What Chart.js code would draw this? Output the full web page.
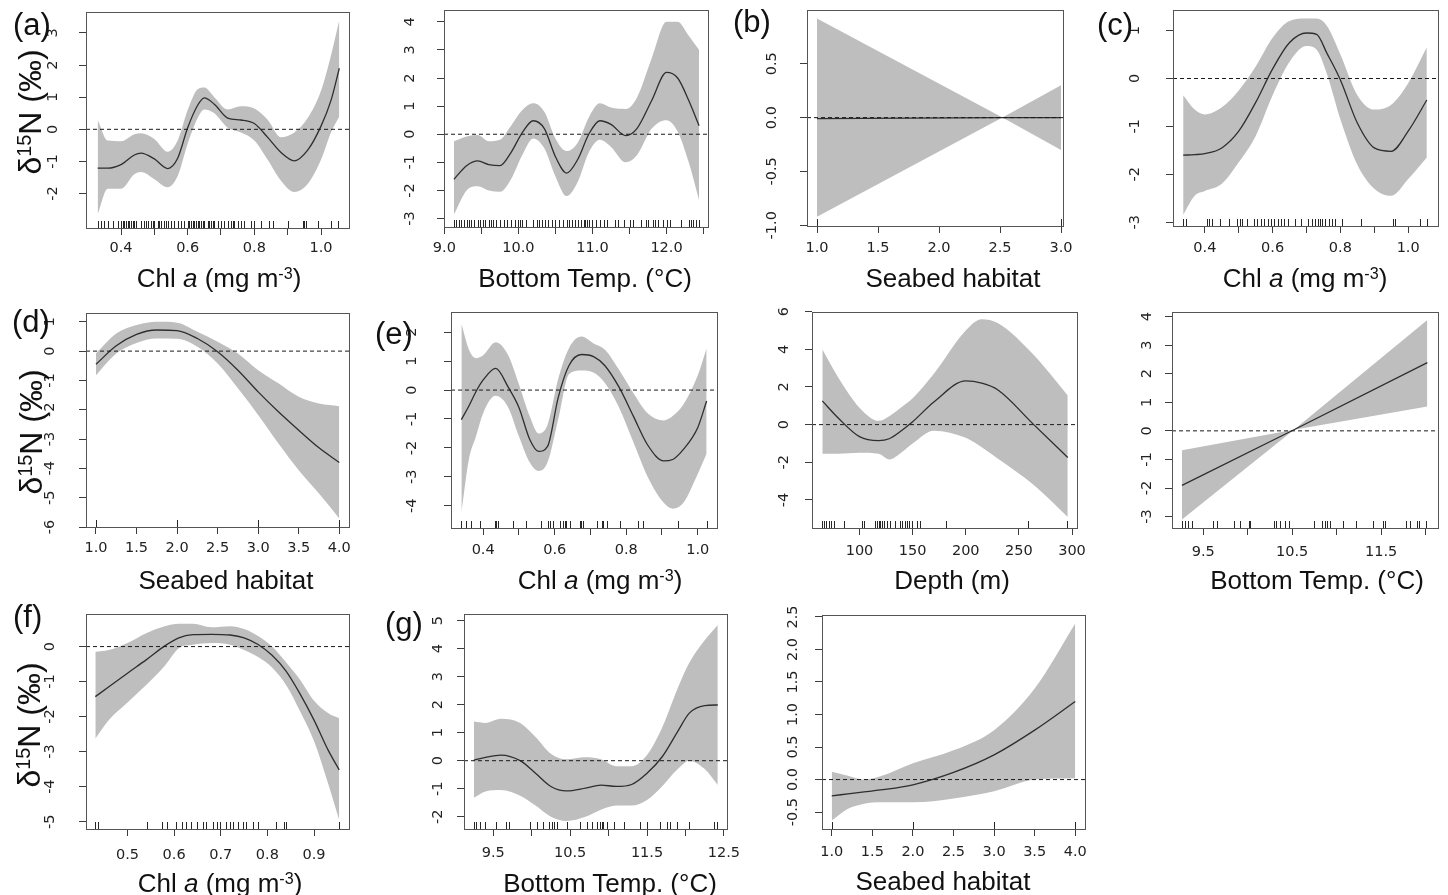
<!DOCTYPE html>
<html>
<head>
<meta charset="utf-8">
<script src="https://cdn.jsdelivr.net/npm/chart.js@4.4.1/dist/chart.umd.min.js"></script>
<style>
  body { margin: 0; background: #fff; }
  #fig { position: relative; width: 1448px; height: 895px; overflow: hidden; font-family: "Liberation Sans", Arial, sans-serif; color: #111; }
  .cw { position: absolute; }
  .tag { position: absolute; font-size: 31px; line-height: 1; white-space: nowrap; }
  .xt { position: absolute; font-size: 26px; line-height: 1; transform: translateX(-50%); white-space: nowrap; }
  .yt { position: absolute; font-size: 32px; line-height: 1; transform: translate(-50%, -50%) rotate(-90deg); white-space: nowrap; }
  .xt sup, .yt sup { font-size: 0.62em; vertical-align: 0.5em; line-height: 0; }
</style>
</head>
<body>
<div id="fig">
  <div class="tag" style="left:13px;top:9px">(a)</div>
  <div class="tag" style="left:733px;top:6px">(b)</div>
  <div class="tag" style="left:1097px;top:9px">(c)</div>
  <div class="tag" style="left:12px;top:306px">(d)</div>
  <div class="tag" style="left:375px;top:318px">(e)</div>
  <div class="tag" style="left:13px;top:601px">(f)</div>
  <div class="tag" style="left:385px;top:608px">(g)</div>

  <div class="yt" style="left:30px;top:112px">δ<sup>15</sup>N (‰)</div>
  <div class="yt" style="left:31px;top:432px">δ<sup>15</sup>N (‰)</div>
  <div class="yt" style="left:29px;top:725px">δ<sup>15</sup>N (‰)</div>

  <div class="xt" style="left:219px;top:265px">Chl <i>a</i> (mg m<sup>-3</sup>)</div>
  <div class="xt" style="left:585px;top:265px">Bottom Temp. (°C)</div>
  <div class="xt" style="left:953px;top:265px">Seabed habitat</div>
  <div class="xt" style="left:1305px;top:265px">Chl <i>a</i> (mg m<sup>-3</sup>)</div>
  <div class="xt" style="left:226px;top:567px">Seabed habitat</div>
  <div class="xt" style="left:600px;top:567px">Chl <i>a</i> (mg m<sup>-3</sup>)</div>
  <div class="xt" style="left:952px;top:567px">Depth (m)</div>
  <div class="xt" style="left:1317px;top:567px">Bottom Temp. (°C)</div>
  <div class="xt" style="left:220px;top:870px">Chl <i>a</i> (mg m<sup>-3</sup>)</div>
  <div class="xt" style="left:610px;top:870px">Bottom Temp. (°C)</div>
  <div class="xt" style="left:943px;top:868px">Seabed habitat</div>
</div>

<script>
// ---- smooth terms: fitted effect, upper / lower confidence limits, rug of observations ----

// (a) Chl a
const aChlX   = [0.33, 0.36, 0.40, 0.44, 0.46, 0.50, 0.54, 0.57, 0.60, 0.63, 0.65, 0.68, 0.72, 0.76, 0.80, 0.84, 0.88, 0.92, 0.96, 1.00, 1.03, 1.055];
const aChlFit = [-1.21, -1.21, -1.1, -0.8, -0.74, -0.92, -1.22, -0.9, 0.05, 0.75, 0.98, 0.78, 0.35, 0.29, 0.18, -0.25, -0.72, -0.98, -0.65, 0.1, 0.9, 1.9];
const aChlHi  = [0.3, -0.35, -0.37, -0.15, -0.12, -0.3, -0.7, -0.35, 0.6, 1.25, 1.3, 1.0, 0.62, 0.72, 0.65, 0.3, -0.25, -0.1, 0.35, 1.2, 2.3, 3.4];
const aChlLo  = [-2.65, -1.85, -1.85, -1.4, -1.33, -1.55, -1.8, -1.45, -0.45, 0.35, 0.62, 0.5, 0.05, -0.1, -0.35, -0.95, -1.6, -1.95, -1.7, -0.95, -0.1, 0.4];
const aChlRug = [0.33, 0.34, 0.35, 0.36, 0.375, 0.39, 0.40, 0.405, 0.41, 0.415, 0.42, 0.425, 0.43, 0.435, 0.44, 0.445, 0.46, 0.47, 0.475, 0.48, 0.49, 0.495, 0.50, 0.51, 0.515, 0.52, 0.53, 0.535, 0.54, 0.55, 0.56, 0.57, 0.58, 0.59, 0.60, 0.605, 0.61, 0.615, 0.62, 0.625, 0.63, 0.635, 0.64, 0.645, 0.65, 0.66, 0.665, 0.67, 0.675, 0.68, 0.69, 0.70, 0.71, 0.72, 0.73, 0.735, 0.74, 0.75, 0.76, 0.77, 0.79, 0.80, 0.82, 0.845, 0.855, 0.90, 0.945, 0.95, 0.955, 0.99, 1.03, 1.05];

// (a) bottom temperature
const aTempX   = [9.13, 9.3, 9.45, 9.6, 9.75, 9.9, 10.05, 10.2, 10.35, 10.5, 10.65, 10.8, 10.95, 11.1, 11.25, 11.45, 11.6, 11.8, 12.0, 12.15, 12.3, 12.44];
const aTempFit = [-1.6, -1.12, -0.95, -1.08, -1.12, -0.65, 0.05, 0.48, 0.2, -0.8, -1.38, -0.9, 0.0, 0.48, 0.35, -0.05, 0.2, 1.2, 2.2, 2.0, 1.2, 0.3];
const aTempHi  = [-0.25, -0.08, -0.03, -0.25, -0.2, 0.3, 0.85, 1.1, 0.8, -0.15, -0.6, -0.3, 0.6, 1.1, 0.95, 0.9, 1.3, 2.7, 4.0, 4.0, 3.5, 3.0];
const aTempLo  = [-2.85, -2.0, -1.85, -2.0, -2.05, -1.6, -0.75, -0.15, -0.5, -1.5, -2.2, -1.7, -0.65, -0.2, -0.45, -1.0, -0.75, 0.2, 0.5, 0.1, -1.0, -2.35];
const aTempRug = [9.13, 9.16, 9.2, 9.23, 9.27, 9.3, 9.33, 9.36, 9.4, 9.45, 9.48, 9.52, 9.55, 9.6, 9.63, 9.66, 9.7, 9.75, 9.8, 9.85, 9.9, 9.95, 10.0, 10.02, 10.05, 10.1, 10.2, 10.25, 10.28, 10.32, 10.36, 10.4, 10.45, 10.5, 10.55, 10.6, 10.65, 10.68, 10.72, 10.76, 10.8, 10.85, 10.88, 10.9, 10.92, 10.95, 11.0, 11.05, 11.1, 11.15, 11.2, 11.3, 11.35, 11.42, 11.5, 11.55, 11.65, 11.72, 11.75, 11.82, 11.85, 11.88, 11.95, 12.0, 12.05, 12.2, 12.3, 12.33, 12.36, 12.4, 12.44];

// (b) seabed habitat
const bHabX   = [1.0, 2.52, 3.0];
const bHabFit = [-0.01, 0.0, 0.0];
const bHabHi  = [0.92, 0.0, 0.3];
const bHabLo  = [-0.92, 0.0, -0.3];
const bHabRug = [1.0, 3.0];

// (c) Chl a
const cChlX   = [0.336, 0.37, 0.4, 0.45, 0.5, 0.55, 0.6, 0.65, 0.7, 0.73, 0.76, 0.8, 0.85, 0.9, 0.95, 1.0, 1.055];
const cChlFit = [-1.6, -1.59, -1.57, -1.45, -1.1, -0.5, 0.2, 0.75, 0.95, 0.92, 0.53, -0.03, -0.93, -1.45, -1.52, -1.1, -0.45];
const cChlHi  = [-0.35, -0.65, -0.75, -0.6, -0.25, 0.25, 0.85, 1.2, 1.25, 1.25, 1.1, 0.5, -0.35, -0.65, -0.55, -0.1, 0.65];
const cChlLo  = [-2.85, -2.45, -2.35, -2.2, -1.75, -1.2, -0.35, 0.35, 0.68, 0.6, 0.1, -0.85, -1.8, -2.3, -2.45, -2.1, -1.65];
const cChlRug = [0.336, 0.344, 0.405, 0.413, 0.42, 0.445, 0.47, 0.495, 0.505, 0.51, 0.525, 0.545, 0.555, 0.565, 0.575, 0.585, 0.595, 0.605, 0.615, 0.625, 0.635, 0.645, 0.665, 0.685, 0.705, 0.715, 0.725, 0.735, 0.74, 0.745, 0.755, 0.765, 0.775, 0.785, 0.805, 0.86, 0.955, 0.96, 1.035, 1.055];

// (d) seabed habitat
const dHabX   = [1.0, 1.25, 1.5, 1.75, 2.0, 2.25, 2.5, 2.75, 3.0, 3.25, 3.5, 3.75, 4.0];
const dHabFit = [-0.45, 0.18, 0.57, 0.72, 0.7, 0.43, -0.02, -0.65, -1.39, -2.07, -2.7, -3.3, -3.8];
const dHabHi  = [-0.08, 0.6, 0.89, 1.0, 0.97, 0.66, 0.32, -0.08, -0.65, -1.1, -1.56, -1.79, -1.88];
const dHabLo  = [-0.82, -0.08, 0.28, 0.43, 0.42, 0.15, -0.42, -1.27, -2.18, -3.15, -4.06, -4.86, -5.71];
const dHabRug = [1, 2, 3, 4];

// (e) Chl a
const eChlX   = [0.339, 0.36, 0.38, 0.40, 0.435, 0.47, 0.50, 0.53, 0.555, 0.58, 0.61, 0.64, 0.675, 0.71, 0.74, 0.78, 0.82, 0.86, 0.905, 0.93, 0.96, 1.0, 1.025];
const eChlFit = [-1.02, -0.55, -0.05, 0.35, 0.75, 0.1, -0.6, -1.7, -2.12, -1.95, -0.25, 0.85, 1.23, 1.15, 0.85, 0.1, -0.9, -1.9, -2.45, -2.4, -2.05, -1.3, -0.38];
const eChlHi  = [2.3, 1.4, 1.1, 1.2, 1.65, 1.2, 0.2, -0.9, -1.5, -1.2, 0.4, 1.45, 1.85, 1.6, 1.4, 0.7, -0.1, -0.8, -1.05, -0.9, -0.5, 0.5, 1.45];
const eChlLo  = [-4.25, -2.4, -1.6, -0.8, -0.2, -0.6, -1.6, -2.5, -2.8, -2.5, -1.0, 0.55, 0.68, 0.6, 0.25, -0.6, -1.8, -3.0, -3.9, -4.1, -3.9, -2.9, -2.2];
const eChlRug = [0.339, 0.351, 0.367, 0.39, 0.433, 0.437, 0.442, 0.484, 0.521, 0.563, 0.582, 0.586, 0.595, 0.614, 0.623, 0.628, 0.633, 0.642, 0.67, 0.675, 0.68, 0.717, 0.731, 0.736, 0.745, 0.783, 0.834, 0.848, 0.946, 1.025];

// (e) depth
const eDepthX   = [65, 80, 100, 118, 128, 140, 150, 170, 200, 215, 230, 264, 296];
const eDepthFit = [1.26, 0.35, -0.64, -0.85, -0.75, -0.3, 0.15, 1.2, 2.32, 2.2, 1.85, 0.0, -1.75];
const eDepthHi  = [4.0, 2.5, 0.9, 0.2, 0.45, 0.95, 1.4, 2.7, 5.0, 5.6, 5.4, 3.7, 1.55];
const eDepthLo  = [-1.55, -1.55, -1.5, -1.55, -1.85, -1.45, -1.0, -0.32, -0.7, -1.2, -1.8, -3.2, -4.9];
const eDepthRug = [65, 66.2, 68.7, 70.9, 73.1, 75.6, 85.6, 102.2, 104.4, 114.7, 116.3, 117.9, 119.4, 121, 122.6, 126.3, 128.8, 133.5, 138.2, 139.8, 142.9, 144.5, 147, 149.2, 153.9, 157, 181.4, 258.7, 295.3];

// (e) bottom temperature
const eTempX   = [9.26, 10.52, 12.02];
const eTempFit = [-1.91, 0.04, 2.39];
const eTempHi  = [-0.68, 0.04, 3.88];
const eTempLo  = [-3.1, 0.04, 0.85];
const eTempRug = [9.26, 9.29, 9.33, 9.37, 9.61, 9.65, 9.84, 9.91, 10.01, 10.02, 10.29, 10.32, 10.36, 10.42, 10.46, 10.74, 10.84, 10.87, 10.89, 10.92, 11.07, 11.22, 11.41, 11.52, 11.54, 11.78, 11.82, 11.9, 11.93, 12.01];

// (f) Chl a
const fChlX   = [0.431, 0.46, 0.50, 0.54, 0.58, 0.61, 0.64, 0.68, 0.72, 0.75, 0.78, 0.81, 0.84, 0.87, 0.90, 0.93, 0.954];
const fChlFit = [-1.43, -1.15, -0.76, -0.38, 0.02, 0.25, 0.34, 0.35, 0.33, 0.25, 0.06, -0.25, -0.7, -1.35, -2.1, -2.95, -3.52];
const fChlHi  = [-0.15, -0.1, 0.1, 0.38, 0.58, 0.65, 0.65, 0.55, 0.58, 0.5, 0.3, 0.0, -0.45, -0.95, -1.55, -1.9, -2.05];
const fChlLo  = [-2.63, -2.1, -1.6, -1.1, -0.55, -0.05, 0.05, 0.1, 0.05, -0.1, -0.3, -0.6, -1.1, -1.85, -2.7, -3.9, -4.95];
const fChlRug = [0.431, 0.437, 0.541, 0.573, 0.584, 0.605, 0.616, 0.626, 0.637, 0.648, 0.662, 0.669, 0.684, 0.691, 0.698, 0.712, 0.719, 0.726, 0.737, 0.748, 0.755, 0.769, 0.78, 0.819, 0.836, 0.84, 0.954];

// (g) bottom temperature
const gTempX   = [9.25, 9.4, 9.6, 9.85, 10.05, 10.25, 10.45, 10.7, 10.9, 11.1, 11.3, 11.5, 11.7, 11.9, 12.05, 12.25, 12.42];
const gTempFit = [0.02, 0.12, 0.2, 0.0, -0.45, -0.92, -1.08, -0.98, -0.87, -0.92, -0.85, -0.45, 0.15, 1.05, 1.7, 1.97, 1.99];
const gTempHi  = [1.4, 1.35, 1.5, 1.35, 0.85, 0.25, 0.05, 0.12, 0.05, -0.2, -0.2, 0.2, 1.2, 2.6, 3.5, 4.3, 4.85];
const gTempLo  = [-1.32, -1.1, -1.05, -1.25, -1.6, -2.0, -2.15, -2.0, -1.75, -1.6, -1.6, -1.4, -0.9, -0.3, 0.0, -0.3, -0.87];
const gTempRug = [9.25, 9.28, 9.33, 9.39, 9.54, 9.67, 9.7, 9.98, 10.07, 10.15, 10.22, 10.27, 10.29, 10.33, 10.46, 10.63, 10.72, 10.78, 10.85, 10.89, 10.91, 10.93, 10.98, 11.07, 11.2, 11.41, 11.5, 11.67, 11.76, 11.8, 11.89, 12.04, 12.37, 12.41];

// (g) seabed habitat
const gHabX   = [1.0, 1.2, 1.4, 1.6, 2.0, 2.5, 3.0, 3.5, 4.0];
const gHabFit = [-0.25, -0.22, -0.19, -0.16, -0.08, 0.11, 0.38, 0.76, 1.2];
const gHabHi  = [0.12, 0.06, 0.0, 0.05, 0.25, 0.45, 0.76, 1.4, 2.4];
const gHabLo  = [-0.63, -0.45, -0.37, -0.35, -0.35, -0.29, -0.18, 0.0, 0.02];
const gHabRug = [1, 2, 3, 4];

// ---- axis ticks (all drawn) and the ones that carry a label ----
const chlTicks    = [0.4, 0.5, 0.6, 0.7, 0.8, 0.9, 1.0];
const chlLabels   = [0.4, 0.6, 0.8, 1.0];
const chlTicksF   = [0.5, 0.6, 0.7, 0.8, 0.9];
const tempTicksA  = [9.0, 9.5, 10.0, 10.5, 11.0, 11.5, 12.0, 12.5];
const tempLabelsA = [9.0, 10.0, 11.0, 12.0];
const tempTicksE  = [9.5, 10.0, 10.5, 11.0, 11.5, 12.0];
const tempTicksG  = [9.5, 10.0, 10.5, 11.0, 11.5, 12.0, 12.5];
const tempLabelsH = [9.5, 10.5, 11.5, 12.5];
const habTicks3   = [1.0, 1.5, 2.0, 2.5, 3.0];
const habTicks4   = [1.0, 1.5, 2.0, 2.5, 3.0, 3.5, 4.0];
const depthTicks  = [100, 150, 200, 250, 300];

// ---- panel layout: plot box on the page [left, top, right, bottom] and axis ranges ----
const panels = [
  { box: [86, 12, 349, 228],    xr: [0.295, 1.084], yr: [-3.07, 3.65], x: aChlX, fit: aChlFit, hi: aChlHi, lo: aChlLo, rug: aChlRug,
    xTicks: chlTicks, xLabels: chlLabels, xDec: 1, yTicks: [-2, -1, 0, 1, 2, 3], yDec: 0, yOff: 33, xOff: 20, smooth: true },
  { box: [444, 10, 708, 227],   xr: [8.995, 12.56], yr: [-3.3, 4.42], x: aTempX, fit: aTempFit, hi: aTempHi, lo: aTempLo, rug: aTempRug,
    xTicks: tempTicksA, xLabels: tempLabelsA, xDec: 1, yTicks: [-3, -2, -1, 0, 1, 2, 3, 4], yDec: 0, yOff: 34, xOff: 21, smooth: true },
  { box: [807, 10, 1063, 226],  xr: [0.918, 3.016], yr: [-1.007, 1.0], x: bHabX, fit: bHabFit, hi: bHabHi, lo: bHabLo, rug: bHabRug,
    xTicks: habTicks3, xLabels: habTicks3, xDec: 1, yTicks: [-1, -0.5, 0, 0.5], yDec: 1, yOff: 35, xOff: 22, smooth: false },
  { box: [1173, 10, 1438, 226], xr: [0.306, 1.088], yr: [-3.08, 1.43], x: cChlX, fit: cChlFit, hi: cChlHi, lo: cChlLo, rug: cChlRug,
    xTicks: chlTicks, xLabels: chlLabels, xDec: 1, yTicks: [-3, -2, -1, 0, 1], yDec: 0, yOff: 38, xOff: 22, smooth: true },
  { box: [86, 313, 349, 527],   xr: [0.877, 4.12], yr: [-6.0, 1.3], x: dHabX, fit: dHabFit, hi: dHabHi, lo: dHabLo, rug: dHabRug,
    xTicks: habTicks4, xLabels: habTicks4, xDec: 1, yTicks: [-6, -5, -4, -3, -2, -1, 0, 1], yDec: 0, yOff: 36, xOff: 21, smooth: true },
  { box: [451, 312, 717, 528],  xr: [0.31, 1.054], yr: [-4.77, 2.7], x: eChlX, fit: eChlFit, hi: eChlHi, lo: eChlLo, rug: eChlRug,
    xTicks: chlTicks, xLabels: chlLabels, xDec: 1, yTicks: [-4, -3, -2, -1, 0, 1, 2], yDec: 0, yOff: 39, xOff: 22, smooth: true },
  { box: [812, 312, 1077, 528], xr: [55.3, 304.7], yr: [-5.49, 5.98], x: eDepthX, fit: eDepthFit, hi: eDepthHi, lo: eDepthLo, rug: eDepthRug,
    xTicks: depthTicks, xLabels: depthTicks, xDec: 0, yTicks: [-4, -2, 0, 2, 4, 6], yDec: 0, yOff: 28, xOff: 23, smooth: true },
  { box: [1172, 312, 1438, 528], xr: [9.148, 12.14], yr: [-3.4, 4.16], x: eTempX, fit: eTempFit, hi: eTempHi, lo: eTempLo, rug: eTempRug,
    xTicks: tempTicksE, xLabels: [9.5, 10.5, 11.5], xDec: 1, yTicks: [-3, -2, -1, 0, 1, 2, 3, 4], yDec: 0, yOff: 25, xOff: 24, smooth: false },
  { box: [86, 614, 349, 829],   xr: [0.411, 0.975], yr: [-5.21, 0.93], x: fChlX, fit: fChlFit, hi: fChlHi, lo: fChlLo, rug: fChlRug,
    xTicks: chlTicksF, xLabels: chlTicksF, xDec: 1, yTicks: [-5, -4, -3, -2, -1, 0], yDec: 0, yOff: 36, xOff: 26, smooth: true },
  { box: [464, 614, 727, 829],  xr: [9.12, 12.54], yr: [-2.44, 5.24], x: gTempX, fit: gTempFit, hi: gTempHi, lo: gTempLo, rug: gTempRug,
    xTicks: tempTicksG, xLabels: tempLabelsH, xDec: 1, yTicks: [-2, -1, 0, 1, 2, 3, 4, 5], yDec: 0, yOff: 26, xOff: 24, smooth: true },
  { box: [822, 615, 1085, 829], xr: [0.88, 4.12], yr: [-0.76, 2.53], x: gHabX, fit: gHabFit, hi: gHabHi, lo: gHabLo, rug: gHabRug,
    xTicks: habTicks4, xLabels: habTicks4, xDec: 1, yTicks: [-0.5, 0, 0.5, 1, 1.5, 2, 2.5], yDec: 1, yOff: 29, xOff: 23, smooth: true }
];

const BAND = '#bebebe';
const FIT_COLOR = '#2e2e2e';
const AXIS_COLOR = '#3c3c3c';
const TICK_FONT = { family: 'DejaVu Sans', size: 14.5 };

// canvas margins round each plot box
const ML = 52, MT = 8, MR = 24, MB = 42;

function pts(xs, ys) {
  return xs.map((x, i) => ({ x, y: ys[i] }));
}

function near(list, v) {
  return list.some(t => Math.abs(t - v) < 1e-9);
}

// rug, box and rotated y tick labels, R style
const rFrame = {
  id: 'rFrame',
  afterDatasetsDraw(chart, args, opts) {
    const { ctx, chartArea: a, scales: { x } } = chart;
    ctx.save();
    ctx.strokeStyle = 'rgba(15,15,15,0.9)';
    ctx.lineWidth = 1;
    ctx.beginPath();
    for (const v of opts.rug) {
      const px = Math.round(x.getPixelForValue(v)) + 0.5;
      ctx.moveTo(px, a.bottom);
      ctx.lineTo(px, a.bottom - 7);
    }
    ctx.stroke();
    ctx.restore();
  },
  afterDraw(chart, args, opts) {
    const { ctx, chartArea: a, scales: { y } } = chart;
    ctx.save();
    ctx.strokeStyle = '#555';
    ctx.lineWidth = 1;
    ctx.strokeRect(Math.round(a.left) + 0.5, Math.round(a.top) + 0.5, Math.round(a.right - a.left), Math.round(a.bottom - a.top));
    ctx.fillStyle = '#222';
    ctx.font = `${TICK_FONT.size}px "${TICK_FONT.family}"`;
    ctx.textAlign = 'center';
    ctx.textBaseline = 'middle';
    for (const t of y.ticks) {
      ctx.save();
      ctx.translate(a.left - opts.yOff, y.getPixelForValue(t.value));
      ctx.rotate(-Math.PI / 2);
      ctx.fillText(t.value.toFixed(opts.yDec), 0, 0);
      ctx.restore();
    }
    ctx.restore();
  }
};

const fig = document.getElementById('fig');

panels.forEach(p => {
  const [l, t, r, b] = p.box;
  const w = r - l + ML + MR;
  const h = b - t + MT + MB;
  const wrap = document.createElement('div');
  wrap.className = 'cw';
  wrap.style.left = (l - ML) + 'px';
  wrap.style.top = (t - MT) + 'px';
  wrap.style.width = w + 'px';
  wrap.style.height = h + 'px';
  const cv = document.createElement('canvas');
  cv.width = w;
  cv.height = h;
  cv.style.width = w + 'px';
  cv.style.height = h + 'px';
  wrap.appendChild(cv);
  fig.insertBefore(wrap, fig.firstChild);

  const curve = p.smooth ? { cubicInterpolationMode: 'monotone', tension: 0.4 } : { tension: 0 };

  new Chart(cv, {
    type: 'line',
    data: {
      datasets: [
        { data: pts(p.x, p.hi), fill: '+1', backgroundColor: BAND, borderWidth: 0, pointRadius: 0, order: 3, ...curve },
        { data: pts(p.x, p.lo), fill: false, borderWidth: 0, pointRadius: 0, order: 3, ...curve },
        { data: pts(p.x, p.fit), fill: false, borderColor: FIT_COLOR, borderWidth: 1.3, pointRadius: 0, order: 1, ...curve },
        { data: [{ x: p.xr[0], y: 0 }, { x: p.xr[1], y: 0 }], fill: false, borderColor: '#1a1a1a', borderWidth: 1,
          borderDash: [4, 3], pointRadius: 0, order: 0 }
      ]
    },
    options: {
      responsive: false,
      animation: false,
      events: [],
      layout: { padding: { left: 0, top: MT, right: MR, bottom: 0 } },
      plugins: {
        legend: { display: false },
        tooltip: { enabled: false },
        filler: { drawTime: 'beforeDatasetsDraw' },
        rFrame: { rug: p.rug, yOff: p.yOff, yDec: p.yDec }
      },
      scales: {
        x: {
          type: 'linear', min: p.xr[0], max: p.xr[1],
          afterBuildTicks: s => { s.ticks = p.xTicks.map(v => ({ value: v })); },
          afterFit: s => { s.height = MB; s.paddingLeft = 0; s.paddingRight = 0; },
          grid: { drawOnChartArea: false, drawTicks: true, tickLength: 7, color: AXIS_COLOR, lineWidth: 1 },
          border: { display: true, color: AXIS_COLOR, width: 1 },
          ticks: {
            autoSkip: false, maxRotation: 0, minRotation: 0,
            padding: p.xOff - 7 - TICK_FONT.size * 0.6,
            color: '#222', font: TICK_FONT,
            callback: v => near(p.xLabels, v) ? v.toFixed(p.xDec) : ''
          }
        },
        y: {
          type: 'linear', min: p.yr[0], max: p.yr[1],
          afterBuildTicks: s => { s.ticks = p.yTicks.map(v => ({ value: v })); },
          afterFit: s => { s.width = ML; s.paddingTop = 0; s.paddingBottom = 0; },
          grid: { drawOnChartArea: false, drawTicks: true, tickLength: 7, color: AXIS_COLOR, lineWidth: 1 },
          border: { display: true, color: AXIS_COLOR, width: 1 },
          ticks: { display: false }
        }
      }
    },
    plugins: [rFrame]
  });
});
</script>
</body>
</html>
